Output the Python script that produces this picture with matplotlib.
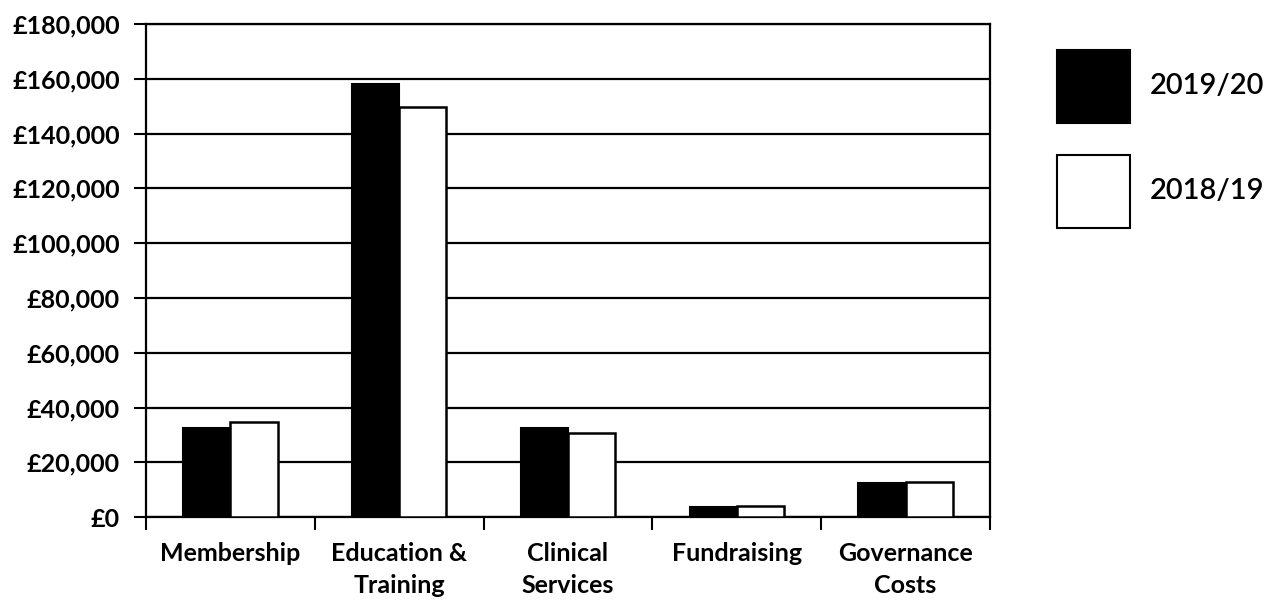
import matplotlib
matplotlib.use('Agg')
import matplotlib.pyplot as plt
from matplotlib.patches import Rectangle
from matplotlib.ticker import FuncFormatter, MultipleLocator
import numpy as np

plt.rcParams['font.family'] = ['Lato', 'DejaVu Sans']
plt.rcParams['font.weight'] = 'bold'

# data
categories = ["Membership", "Education &\nTraining", "Clinical\nServices",
              "Fundraising", "Governance\nCosts"]
series_names = ["2019/20", "2018/19"]
values_1920 = [32500, 158000, 32500, 3600, 12600]
values_1819 = [34700, 149600, 30700, 4100, 12900]

fig = plt.figure(figsize=(12.7, 6), dpi=100)
ax = fig.add_axes([0.115, 0.138, 0.6645, 0.822])

x = np.arange(len(categories))
w = 0.28
ax.bar(x - w / 2, values_1920, w, color='black', edgecolor='black', linewidth=1.5, zorder=3)
ax.bar(x + w / 2, values_1819, w, color='white', edgecolor='black', linewidth=1.8, zorder=3)

ax.set_xlim(-0.5, len(categories) - 0.5)
ax.set_ylim(0, 180000)
ax.yaxis.set_major_locator(MultipleLocator(20000))
ax.yaxis.set_major_formatter(FuncFormatter(lambda v, p: f"£{int(v):,}"))
ax.grid(axis='y', color='black', linewidth=1.6, zorder=0)

# category labels between boundary ticks
ax.set_xticks(np.arange(len(categories) + 1) - 0.5)
ax.set_xticklabels([])
ax.set_xticks(x, minor=True)
ax.set_xticklabels(categories, minor=True, fontsize=18, fontweight='bold',
                   linespacing=1.45)
ax.tick_params(axis='x', which='minor', length=0, pad=18)
ax.tick_params(axis='x', which='major', length=9, width=1.5, direction='out')
ax.tick_params(axis='y', length=9, width=1.5, direction='out', labelsize=18, pad=10)
for lab in ax.get_yticklabels():
    lab.set_fontweight('bold')
for s in ax.spines.values():
    s.set_linewidth(1.6)
    s.set_color('black')

# legend drawn as large squares
leg_y = [0.795, 0.62]
colors = ['black', 'white']
for yy, c, name in zip(leg_y, colors, series_names):
    fig.add_artist(Rectangle((0.8325, yy), 0.0575, 0.122, transform=fig.transFigure,
                             facecolor=c, edgecolor='black', linewidth=1.5))
    fig.text(0.905, yy + 0.061, name, fontsize=21, va='center', ha='left',
             fontweight='semibold')

fig.savefig('out.png', dpi=100)
